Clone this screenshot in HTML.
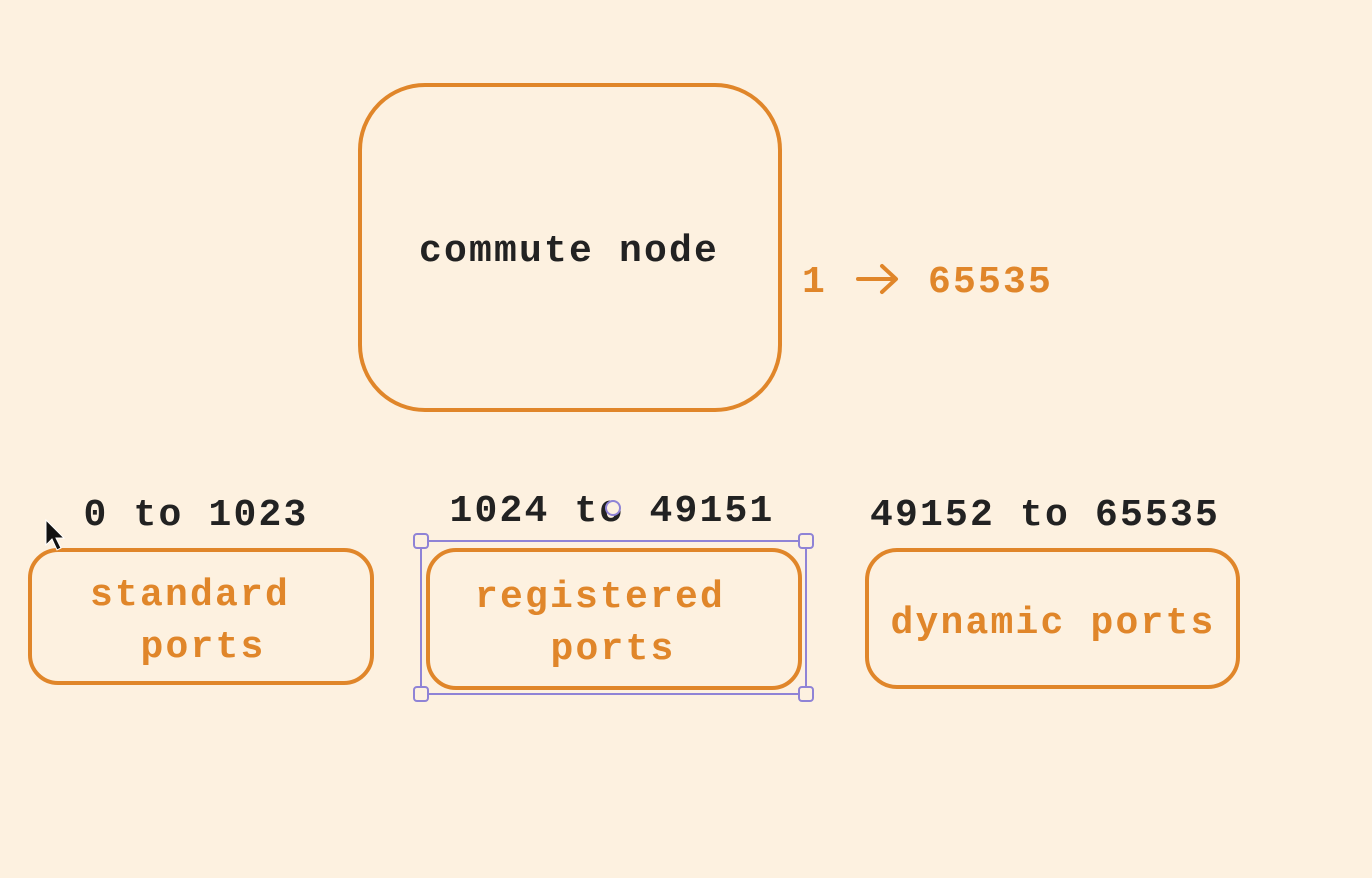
<!DOCTYPE html>
<html><head><style>
html,body{margin:0;padding:0;background:#fdf1e0;}
svg{display:block}
text{font-family:"Liberation Mono",monospace;font-weight:bold;font-size:38px;letter-spacing:2.2px;}
</style></head><body>
<svg width="1372" height="878" viewBox="0 0 1372 878">
<rect width="1372" height="878" fill="#fdf1e0"/>
<g fill="none" stroke="#e0862a" stroke-width="4">
<rect x="360" y="85" width="420" height="325" rx="65"/>
<rect x="30" y="550" width="342" height="133" rx="28"/>
<rect x="428" y="550" width="372" height="138" rx="28"/>
<rect x="867" y="550" width="371" height="137" rx="30"/>
</g>
<g fill="none" stroke="#8f83d6" stroke-width="2">
<rect x="421" y="541" width="385" height="153"/>
<g fill="#fdf1e0">
<rect x="414" y="534" width="14" height="14" rx="3"/>
<rect x="799" y="534" width="14" height="14" rx="3"/>
<rect x="414" y="687" width="14" height="14" rx="3"/>
<rect x="799" y="687" width="14" height="14" rx="3"/>
</g>
</g>
<g fill="#222">
<text x="569" y="261" text-anchor="middle">commute node</text>
<text x="196" y="525" text-anchor="middle">0 to 1023</text>
<text x="612" y="521" text-anchor="middle">1024 to 49151</text>
<text x="1045" y="525" text-anchor="middle">49152 to 65535</text>
</g>
<circle cx="613" cy="508" r="7" fill="#fdf1e0" stroke="#8f83d6" stroke-width="2"/>
<g fill="#e0862a">
<text x="802" y="292" style="font-size:38px">1</text>
<text x="928" y="292" style="font-size:38px">65535</text>
<text x="190" y="605" text-anchor="middle">standard</text>
<text x="203" y="657" text-anchor="middle">ports</text>
<text x="600" y="607" text-anchor="middle">registered</text>
<text x="613" y="659" text-anchor="middle">ports</text>
<text x="1053" y="633" text-anchor="middle">dynamic ports</text>
</g>
<g fill="none" stroke="#e0862a" stroke-width="4" stroke-linecap="round" stroke-linejoin="round">
<path d="M858 279 H895 M882 266 L896 279 L882 292"/>
</g>
<path d="M46 520 L46 545 L52 539 L57 550 L61 548 L56 538 L64 538 Z" fill="#111" stroke="#fff" stroke-width="1"/>
</svg>
</body></html>
